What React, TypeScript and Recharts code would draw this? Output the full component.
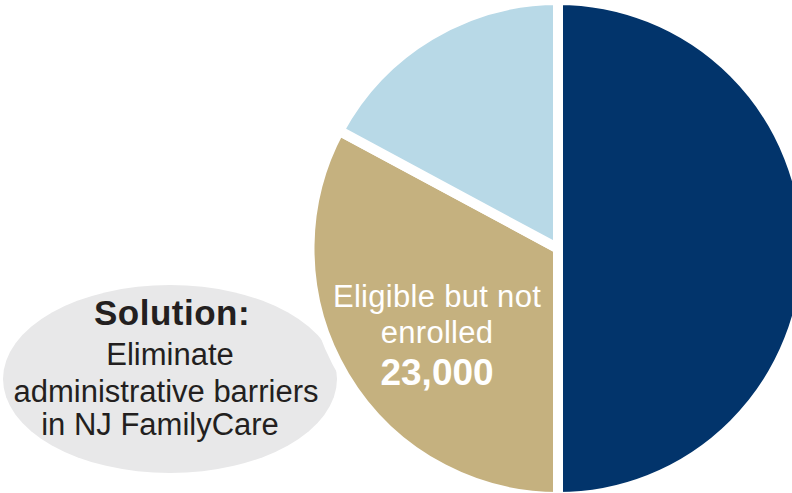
import React from 'react';
import { PieChart, Pie, Cell } from 'recharts';

// Slice data, drawn clockwise from 12 o'clock
const GROUPS = ['Enrolled', 'Eligible but not enrolled', 'Not eligible'];
const VALUES = [35000, 23000, 12000];
const SLICE_COLORS = ['#02346B', '#C5B17F', '#B8D9E7'];

// Callout lines
const LABEL_LINES = ['Eligible but not', 'enrolled'];
const LABEL_VALUE = '23,000';
const SOLUTION_TITLE = 'Solution:';
const SOLUTION_LINES = ['Eliminate', 'administrative barriers', 'in NJ FamilyCare'];

const FONT = '"Liberation Sans", Arial, Helvetica, sans-serif';
const RADIAN = Math.PI / 180;

const data = GROUPS.map((name, i) => ({ name, value: VALUES[i] }));

const renderLabel = (props: any) => {
  const { cx, cy, midAngle, outerRadius, index } = props;
  if (index !== 1) return null;
  const r = outerRadius * 0.567;
  const x = cx + r * Math.cos(-midAngle * RADIAN);
  const y = cy + r * Math.sin(-midAngle * RADIAN);
  return (
    <g fontFamily={FONT} fill="#FFFFFF" textAnchor="middle">
      <text x={x} y={y - 14} fontSize={31} letterSpacing={0.3}>{LABEL_LINES[0]}</text>
      <text x={x} y={y + 22} fontSize={31} letterSpacing={0.3}>{LABEL_LINES[1]}</text>
      <text x={x} y={y + 64} fontSize={37} fontWeight="bold">{LABEL_VALUE}</text>
    </g>
  );
};

const SolutionBubble = () => (
  <svg width={792} height={493} style={{ position: 'absolute', left: 0, top: 0 }}>
    <ellipse cx={170} cy={379} rx={167} ry={94} fill="#E8E8E9" />
    <g fontFamily={FONT} fill="#231F20" textAnchor="middle">
      <text x={172} y={325} fontSize={35} fontWeight="bold" letterSpacing={0.5}>{SOLUTION_TITLE}</text>
      <text x={170} y={365} fontSize={31}>{SOLUTION_LINES[0]}</text>
      <text x={166} y={402} fontSize={31}>{SOLUTION_LINES[1]}</text>
      <text x={160} y={435} fontSize={31}>{SOLUTION_LINES[2]}</text>
    </g>
  </svg>
);

export default function App() {
  return (
    <div style={{ position: 'absolute', left: 0, top: 0, width: 792, height: 493, background: '#FFFFFF', overflow: 'hidden' }}>
      <SolutionBubble />
      <div style={{ position: 'absolute', left: 0, top: 0 }}>
        <PieChart width={792} height={493} margin={{ top: 0, right: 0, bottom: 0, left: 0 }}>
          <Pie
            data={data}
            dataKey="value"
            nameKey="name"
            cx={558}
            cy={248.5}
            outerRadius={248.5}
            startAngle={90}
            endAngle={-270}
            stroke="#FFFFFF"
            strokeWidth={10}
            labelLine={false}
            label={renderLabel}
            isAnimationActive={false}
          >
            {data.map((entry, index) => (
              <Cell key={`cell-${index}`} fill={SLICE_COLORS[index]} />
            ))}
          </Pie>
        </PieChart>
      </div>
    </div>
  );
}
